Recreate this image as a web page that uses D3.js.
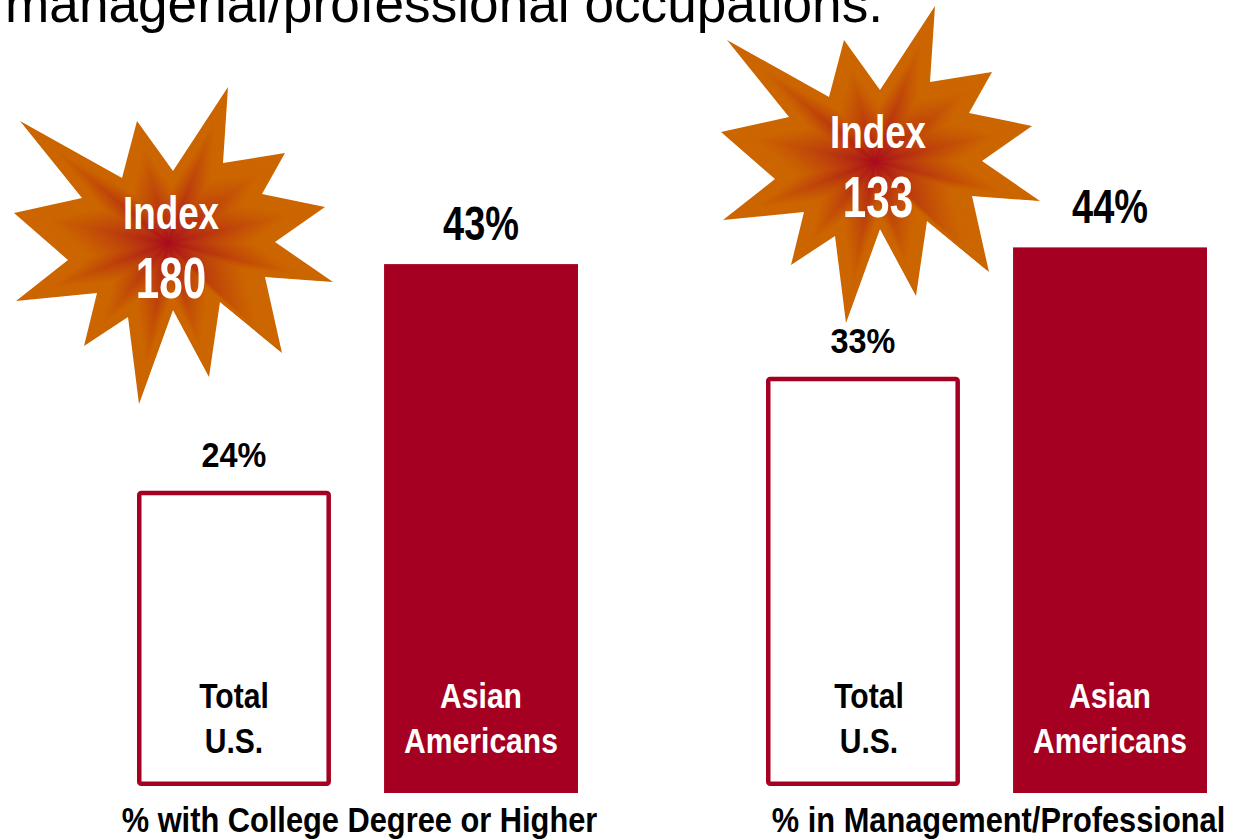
<!DOCTYPE html>
<html lang="en">
<meta charset="UTF-8">
<title>Asian Americans - education and occupation</title>
<style>
body { margin: 0; background: #fff; }
text { font-family: "Liberation Sans", Arial, sans-serif; }
.title { font-size: 54px; fill: #000; }
.bold { font-weight: bold; }
</style>
<body>
<script src="https://d3js.org/d3.v7.min.js"></script>
<script>
var panels = ["% with College Degree or Higher", "% in Management/Professional"]
var groups = ["Total U.S.", "Asian Americans"]
var groupWords = [["Total", "U.S."], ["Asian", "Americans"]]
var totalUS = [24, 33]
var asianAm = [43, 44]
var indexValues = [180, 133]

var width = 1242, height = 840
var red = "#a50021", orange = "#cc6600"

var svg = d3.select("body").append("svg")
  .attr("width", width)
  .attr("height", height)

// no narrow font installed, so squeeze the text horizontally
function narrowText(parent, x, y, str, size, sx, color) {
  return parent.append("g")
    .attr("transform", "translate(" + x + "," + y + ") scale(" + sx + ",1)")
    .append("text")
    .attr("class", "bold")
    .attr("text-anchor", "middle")
    .style("font-size", size + "px")
    .attr("fill", color || "#000")
    .text(str)
}

svg.append("text")
  .attr("class", "title")
  .attr("x", 5)
  .attr("y", 22)
  .attr("textLength", 878)
  .attr("lengthAdjust", "spacingAndGlyphs")
  .text("managerial/professional occupations.")

var xPanel = d3.scaleBand()
  .domain(panels)
  .range([137, 137 + 2 * 629])

var xBar = d3.scaleBand()
  .domain(groups)
  .range([0, 441])
  .paddingInner(0.215)

// each panel has its own vertical scale, as in the original slide
var pxPerPct = [12.3, 12.4]
var baseFilled = 793, baseOutline = 786
var yScales = panels.map(function(p, i) {
  return d3.scaleLinear().domain([0, 45]).range([0, 45 * pxPerPct[i]])
})

// star shape, relative to its centre (tip, inner, tip, inner ...)
var starPts = [[60,-156],[55,-80],[117,-90],[94,-49],[157,-36],[107,-1],[165,39],[97,34],
  [114,110],[52,59],[41,134],[5,67],[-29,161],[-40,74],[-84,103],[-71,50],[-152,58],[-100,17],
  [-154,-30],[-86,-45],[-148,-122],[-46,-65],[-31,-122],[5,-72]]
var starPos = [[168, 243], [875, 162]]

var ramp = d3.interpolateRgb(red, orange)

panels.forEach(function(p, i) {
  var g = svg.append("g").attr("transform", "translate(" + xPanel(p) + ",0)")
  var y = yScales[i]
  var sw = 4.5
  var cx = function(grp) { return xBar(grp) + xBar.bandwidth() / 2 }

  // Total U.S. outlined bar
  var topOut = baseOutline - y(totalUS[i])
  g.append("rect")
    .attr("x", xBar(groups[0]) + sw / 2)
    .attr("y", topOut + sw / 2)
    .attr("width", xBar.bandwidth() - sw)
    .attr("height", y(totalUS[i]) - sw)
    .attr("rx", 2)
    .attr("fill", "#fff")
    .attr("stroke", red)
    .attr("stroke-width", sw)

  // Asian Americans filled bar
  var topFill = baseFilled - y(asianAm[i])
  g.append("rect")
    .attr("x", xBar(groups[1]))
    .attr("y", topFill)
    .attr("width", xBar.bandwidth())
    .attr("height", y(asianAm[i]))
    .attr("fill", red)

  narrowText(g, cx(groups[0]), topOut - 24, totalUS[i] + "%", 36, 0.9)
  narrowText(g, cx(groups[1]), topFill - 24, asianAm[i] + "%", 48, 0.79)

  groups.forEach(function(grp, j) {
    groupWords[j].forEach(function(w, k) {
      narrowText(g, cx(grp) + (i == 1 && j == 0 ? 6 : 0), 708 + k * 45, w, 35, 0.86, j == 0 ? "#000" : "#fff")
    })
  })

  narrowText(g, 441 / 2 + 2 + i * 10, 832, p, 35, 0.88)

  // starburst with a path-style gradient: shrinking copies of the star
  var star = svg.append("g")
    .attr("transform", "translate(" + starPos[i][0] + "," + starPos[i][1] + ")")
  var n = 60
  for (var s = n; s > 0; s--) {
    var t = s / n
    star.append("polygon")
      .attr("points", starPts.map(function(q) { return [q[0] * t, q[1] * t].join(",") }).join(" "))
      .attr("fill", ramp(Math.min(1, Math.pow(t, 0.6) * 1.15)))
  }
  narrowText(star, 3, -14, "Index", 46, 0.8, "#fff")
  narrowText(star, 3, 55, indexValues[i], 57, 0.74, "#fff")
})
</script>
</body>
</html>
